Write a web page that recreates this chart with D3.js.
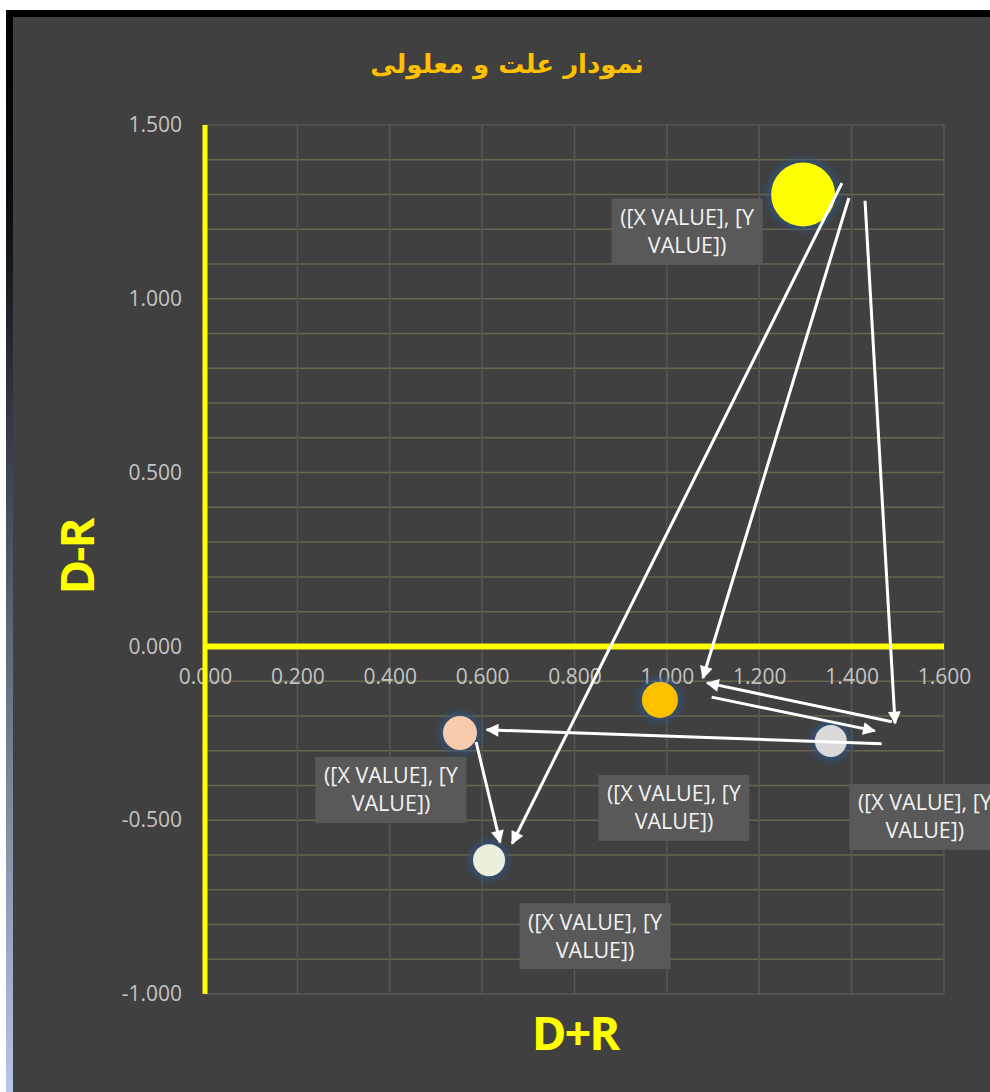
<!DOCTYPE html>
<html>
<head>
<meta charset="utf-8">
<script src="https://cdn.jsdelivr.net/npm/d3@7"></script>
<style>
  html, body { margin: 0; padding: 0; background: #ffffff; }
  svg { display: block; }
</style>
</head>
<body>
<svg id="chart" width="990" height="1092"></svg>
<script>
// ---------- data ----------
const chartTitle = "نمودار علت و معلولی";
const xAxisTitle = "D+R";
const yAxisTitle = "D-R";
const xValues = [1.295, 0.985, 1.355, 0.552, 0.615];   // D+R
const yValues = [1.300, -0.154, -0.272, -0.249, -0.615]; // D-R
const bubbleSizes = [4.0, 1.27, 1.0, 1.13, 1.0];
const bubbleColors = ["#ffff00", "#ffc000", "#d9d9d9", "#f8cbad", "#ebf1de"];
const xTicks = [0, 0.2, 0.4, 0.6, 0.8, 1.0, 1.2, 1.4, 1.6];
const yTicks = [-1.0, -0.5, 0, 0.5, 1.0, 1.5];
const labelLines = ["([X VALUE], [Y", "VALUE])"];
// label box offsets from bubble centre (layout)
const labelOffsets = [[-116, 37], [14, 108], [94, 76], [-69, 57], [106, 76]];
// annotation arrows in data units [x1, y1, x2, y2]
const arrowsData = [
  [1.379, 1.333, 0.665, -0.567],
  [1.394, 1.290, 1.078, -0.091],
  [1.429, 1.282, 1.494, -0.221],
  [1.487, -0.217, 1.087, -0.105],
  [1.097, -0.146, 1.450, -0.243],
  [1.465, -0.280, 0.610, -0.240],
  [0.587, -0.275, 0.639, -0.564]
];

// ---------- layout ----------
const svg = d3.select("#chart");
const x = d3.scaleLinear().domain([0, 1.6]).range([205, 944]);
const y = d3.scaleLinear().domain([-1.0, 1.5]).range([994, 125]);
const r = d3.scaleSqrt().domain([0, d3.max(bubbleSizes)]).range([0, 32]);

const defs = svg.append("defs");
const grad = defs.append("linearGradient").attr("id", "frameGrad")
  .attr("x1", 0).attr("y1", 0).attr("x2", 0).attr("y2", 1);
grad.append("stop").attr("offset", "0%").attr("stop-color", "#000000");
grad.append("stop").attr("offset", "18%").attr("stop-color", "#0a0d12");
grad.append("stop").attr("offset", "100%").attr("stop-color", "#b8cbea");

const glow = defs.append("filter").attr("id", "glow")
  .attr("x", "-50%").attr("y", "-50%").attr("width", "200%").attr("height", "200%");
glow.append("feGaussianBlur").attr("stdDeviation", 3);

defs.append("marker").attr("id", "arrowHead")
  .attr("viewBox", "0 0 10 10").attr("refX", 9).attr("refY", 5)
  .attr("markerUnits", "userSpaceOnUse")
  .attr("markerWidth", 15).attr("markerHeight", 13)
  .attr("orient", "auto")
  .append("path").attr("d", "M0,0 L10,5 L0,10 Z").attr("fill", "#ffffff");

// frame
svg.append("rect").attr("x", 6).attr("y", 10).attr("width", 1000).attr("height", 1100)
  .attr("fill", "url(#frameGrad)");
svg.append("rect").attr("x", 13).attr("y", 17).attr("width", 1000).attr("height", 1100)
  .attr("fill", "#404040");

// gridlines
const gridG = svg.append("g");
const minorY = d3.range(-10, 16).map(i => i / 10);
gridG.selectAll("line.hy").data(minorY).join("line")
  .attr("x1", x(0)).attr("x2", x(1.6))
  .attr("y1", d => y(d)).attr("y2", d => y(d))
  .attr("stroke", d => (Math.abs(d - 1.5) < 1e-9 || Math.abs(d + 1) < 1e-9) ? "#575757" : "#6a6550")
  .attr("stroke-width", 1.5);
gridG.selectAll("line.vx").data(xTicks.filter(d => d > 0)).join("line")
  .attr("x1", d => x(d)).attr("x2", d => x(d))
  .attr("y1", y(1.5)).attr("y2", y(-1.0))
  .attr("stroke", "#575757").attr("stroke-width", 1.5);

// axes
const fmt = d => d.toFixed(3);
const yAxis = svg.append("g").attr("transform", `translate(${x(0)},0)`)
  .call(d3.axisLeft(y).tickValues(yTicks).tickFormat(fmt).tickSize(0).tickPadding(23));
const xAxis = svg.append("g").attr("transform", `translate(0,${y(0)})`)
  .call(d3.axisBottom(x).tickValues(xTicks).tickFormat(fmt).tickSize(0).tickPadding(23));
[xAxis, yAxis].forEach(g => {
  g.select(".domain").remove();
  g.selectAll("text").attr("fill", "#c4c4c4")
    .style("font-family", "'Open Sans', sans-serif").style("font-size", "21px");
});

// yellow axis lines
svg.append("line").attr("x1", x(0)).attr("x2", x(0)).attr("y1", y(1.5)).attr("y2", y(-1.0))
  .attr("stroke", "#ffff00").attr("stroke-width", 5);
svg.append("line").attr("x1", x(0)).attr("x2", x(1.6)).attr("y1", y(0)).attr("y2", y(0))
  .attr("stroke", "#ffff00").attr("stroke-width", 6);

// bubbles
const pts = xValues.map((d, i) => ({ x: d, y: yValues[i], s: bubbleSizes[i], c: bubbleColors[i], o: labelOffsets[i] }));
const bg = svg.append("g");
bg.selectAll("circle.g").data(pts).join("circle")
  .attr("cx", d => x(d.x)).attr("cy", d => y(d.y)).attr("r", d => r(d.s) + 4)
  .attr("fill", "#2f5482").attr("opacity", 0.75).attr("filter", "url(#glow)");
bg.selectAll("circle.b").data(pts).join("circle")
  .attr("cx", d => x(d.x)).attr("cy", d => y(d.y)).attr("r", d => r(d.s))
  .attr("fill", d => d.c);

// arrows
svg.append("g").selectAll("line").data(arrowsData).join("line")
  .attr("x1", d => x(d[0])).attr("y1", d => y(d[1]))
  .attr("x2", d => x(d[2])).attr("y2", d => y(d[3]))
  .attr("stroke", "#ffffff").attr("stroke-width", 3)
  .attr("marker-end", "url(#arrowHead)");

// data labels
const lg = svg.append("g").selectAll("g").data(pts).join("g")
  .attr("transform", d => `translate(${x(d.x) + d.o[0]},${y(d.y) + d.o[1]})`);
lg.append("rect").attr("x", -75.5).attr("y", -33).attr("width", 151).attr("height", 66)
  .attr("fill", "#595959");
lg.selectAll("text").data(labelLines).join("text")
  .attr("x", 0).attr("y", (d, i) => (i === 0 ? -14 : 14))
  .attr("dy", "0.35em")
  .attr("text-anchor", "middle")
  .attr("fill", "#f2f2f2")
  .style("font-family", "'Open Sans', sans-serif").style("font-size", "21.5px")
  .text(d => d);

// titles
svg.append("text").attr("x", 507).attr("y", 64).attr("dy", "0.35em")
  .attr("text-anchor", "middle").attr("fill", "#ffc000")
  .style("font-family", "'DejaVu Sans', sans-serif").style("font-weight", "bold").style("font-size", "26px")
  .attr("direction", "rtl")
  .text(chartTitle);
svg.append("text").attr("x", 575).attr("y", 1034).attr("dy", "0.35em")
  .attr("text-anchor", "middle").attr("fill", "#ffff00")
  .style("font-family", "'Open Sans', sans-serif").style("font-weight", "bold").style("font-size", "47px")
  .style("letter-spacing", "-2px")
  .text(xAxisTitle);
svg.append("text").attr("transform", "translate(78,557) rotate(-90)").attr("dy", "0.35em")
  .attr("text-anchor", "middle").attr("fill", "#ffff00")
  .style("font-family", "'Open Sans', sans-serif").style("font-weight", "bold").style("font-size", "47px")
  .style("letter-spacing", "-2px")
  .text(yAxisTitle);
</script>
</body>
</html>
